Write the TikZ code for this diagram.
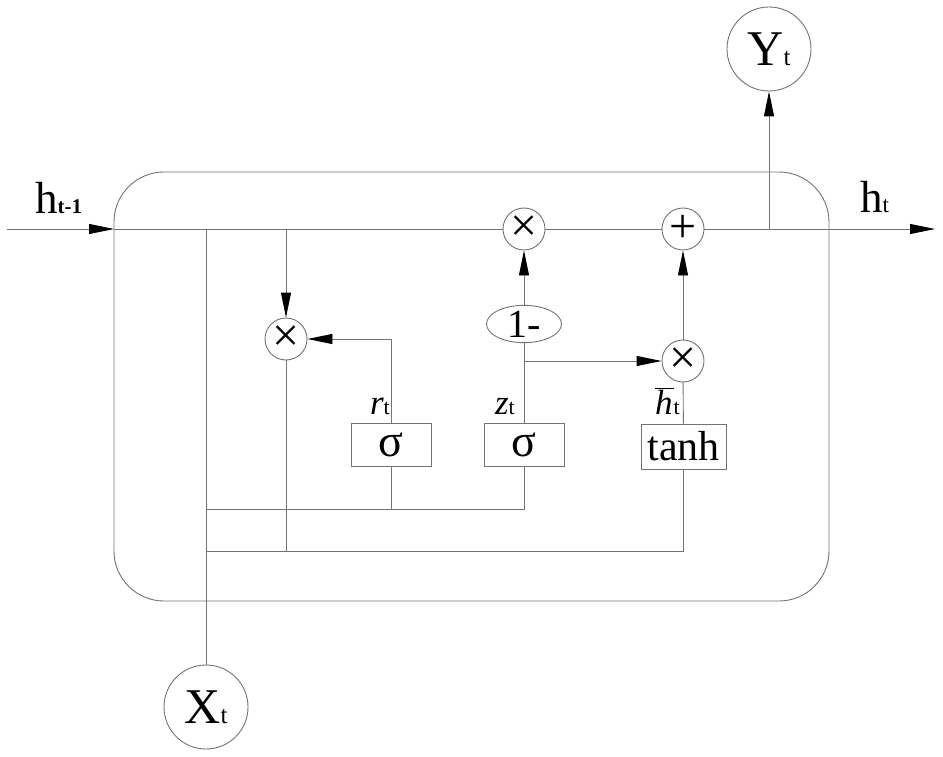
\documentclass[tikz,border=0pt]{standalone}
\usepackage{fontspec}
\setmainfont{Liberation Serif}
\usetikzlibrary{arrows.meta,shapes.geometric}
\newcommand{\fsz}[1]{\fontsize{#1}{#1}\selectfont}
\tikzset{
  wire/.style={draw=black!55, line width=0.9pt},
  arr/.style={wire, -{Triangle[length=25pt,width=10pt,color=black]}},
  op/.style={circle, draw=black!55, line width=0.9pt, minimum size=42pt, inner sep=0pt, font=\fsz{48}},
  io/.style={circle, draw=black!55, line width=0.9pt, minimum size=84pt, inner sep=0pt, font=\fsz{50}},
  gate/.style={rectangle, draw=black!55, line width=0.9pt, minimum width=80pt, minimum height=43pt, inner sep=0pt},
  lbl/.style={inner sep=0pt, font=\fsz{35}\itshape}
}
\begin{document}
\begin{tikzpicture}[x=1pt,y=-1pt]
  \useasboundingbox (0,0) rectangle (943,757);
  \draw[wire, rounded corners=50pt] (114,172) rectangle (829,601);
  % points on the state line
  \coordinate (in0) at (7,229);
  \coordinate (in) at (114,229);
  \coordinate (out) at (935,229);
  \coordinate (tapx) at (206,229);
  \coordinate (tapr) at (286,229);
  \coordinate (tapy) at (769,229);
  \coordinate (br) at (524,361);
  \coordinate (j1) at (206,509);
  \coordinate (j2) at (206,551);
  % nodes
  \node[op] (mulr) at (286,339) {×};
  \node[op] (mulz) at (524,229) {×};
  \node[op] (add) at (683,229) {+};
  \node[op] (mulh) at (683,361) {×};
  \node[gate, font=\fsz{46}] (sigr) at (391,445) {σ};
  \node[gate, font=\fsz{46}] (sigz) at (524,445) {σ};
  \node[gate, minimum width=85pt, minimum height=45pt, font=\fsz{42}] (tanh) at (683.5,446.5) {tanh};
  \node[ellipse, draw=black!55, line width=0.9pt, minimum width=75pt, minimum height=36pt, inner sep=0pt, font=\fsz{40}] (one) at (524,324) {1-};
  \node[io] (xt) at (206,707) {X{\fsz{25}t}};
  \node[io] (yt) at (769,49) {Y{\fsz{25}t}};
  % labels
  \node[inner sep=0pt, anchor=base west, font=\fsz{45}] (hprev) at (35,213) {h{\bfseries\fsz{21}t-1}};
  \node[inner sep=0pt, anchor=base west, font=\fsz{45}] (hnext) at (860,212) {h{\fsz{23}t}};
  \node[lbl, anchor=base east] (rt) at (390,414) {r{\upshape\fsz{22}t}};
  \node[lbl, anchor=base east] (zt) at (515,414) {z{\upshape\fsz{22}t}};
  \node[lbl, anchor=base east] (ht) at (680,414) {$\overline{\mbox{\itshape h\kern1pt}}$\mbox{\upshape\fsz{22}t}};
  % state line
  \draw[arr] (in0) -- (in);
  \draw[wire] (in) -- (mulz) -- (add);
  \draw[arr] (add) -- (out);
  \draw[arr] (tapy) -- (yt);
  % gates
  \draw[arr] (tapr) -- (mulr);
  \draw[arr] (sigr.north) |- (mulr.east);
  \draw[wire] (sigz) -- (one);
  \draw[arr] (one) -- (mulz);
  \draw[arr] (br) -- (mulh);
  \draw[wire] (tanh) -- (mulh);
  \draw[arr] (mulh) -- (add);
  % input wiring
  \draw[wire] (tapx) -- (xt);
  \draw[wire] (j1) -| (sigz.south);
  \draw[wire] (sigr) -- (sigr |- j1);
  \draw[wire] (mulr) -- (mulr |- j2);
  \draw[wire] (j2) -| (tanh.south);
\end{tikzpicture}
\end{document}
